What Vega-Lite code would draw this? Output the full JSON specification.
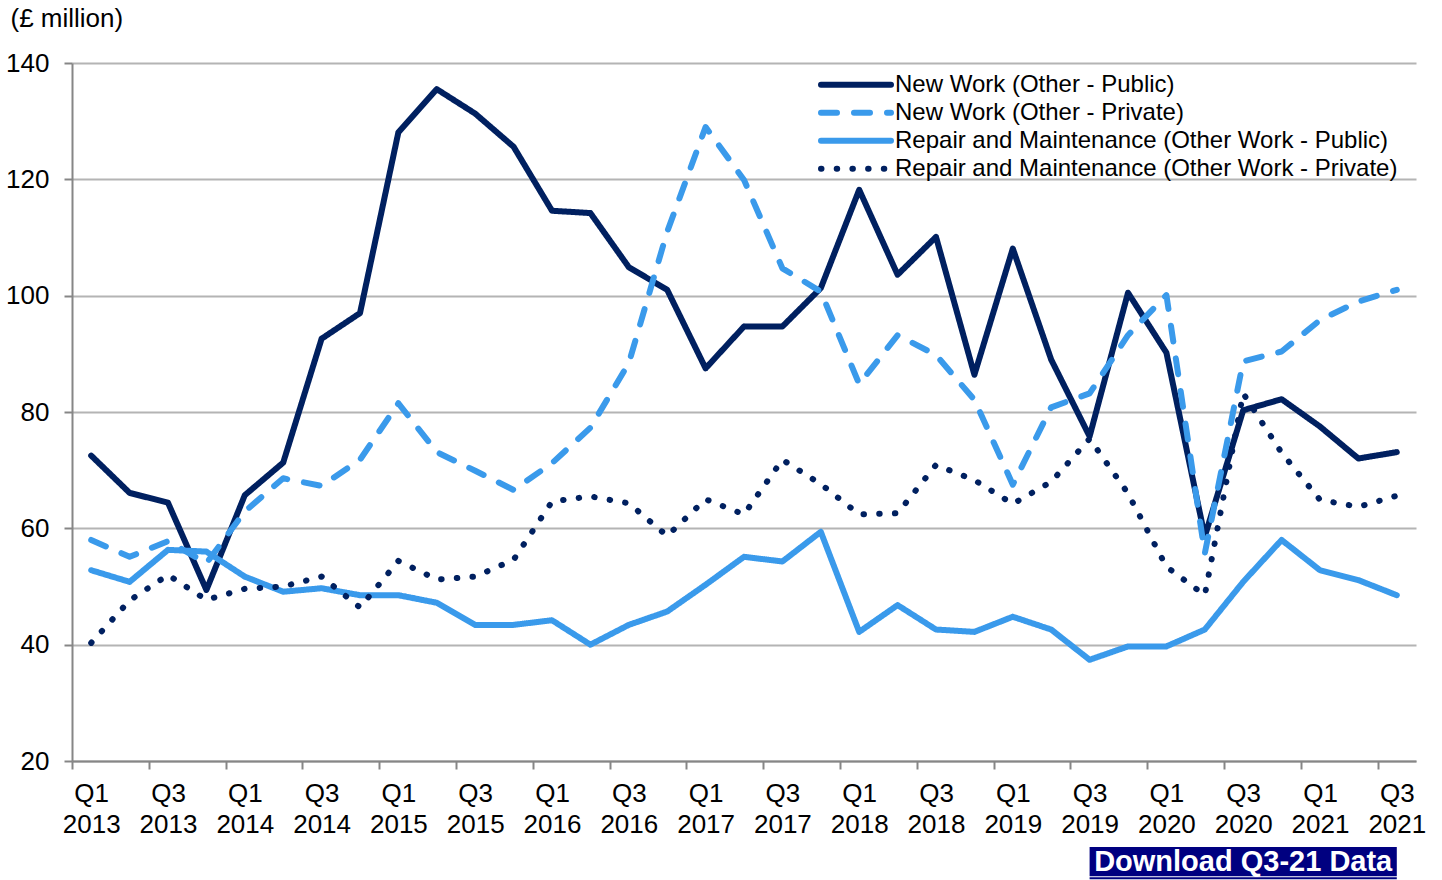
{
  "$schema": "https://vega.github.io/schema/vega-lite/v6.json",
  "width": 1344,
  "height": 698,
  "autosize": "none",
  "padding": {"left": 72, "top": 63, "right": 26, "bottom": 119},
  "background": "white",
  "config": {
    "view": {"stroke": null},
    "font": "Liberation Sans",
    "axis": {
      "domainColor": "#868686", "domainWidth": 2,
      "tickColor": "#868686", "tickWidth": 2, "tickSize": 8,
      "labelFont": "Liberation Sans", "labelFontSize": 26, "labelColor": "#000000",
      "gridColor": "#B4B4B4", "gridWidth": 2
    },
    "legend": {
      "labelFont": "Liberation Sans", "labelFontSize": 24, "labelColor": "#000000",
      "labelLimit": 0, "symbolType": "stroke", "symbolSize": 4900, "symbolStrokeWidth": 6,
      "labelOffset": 1, "rowPadding": 0, "padding": 0, "clipHeight": 27.7
    }
  },
  "datasets": {
    "series": [
      {"quarter": "Q1 2013", "New Work (Other - Public)": 72.5, "New Work (Other - Private)": 58.0, "Repair and Maintenance (Other Work - Public)": 52.8, "Repair and Maintenance (Other Work - Private)": 40.3},
      {"quarter": "Q2 2013", "New Work (Other - Public)": 66.1, "New Work (Other - Private)": 55.1, "Repair and Maintenance (Other Work - Public)": 50.8, "Repair and Maintenance (Other Work - Private)": 47.6},
      {"quarter": "Q3 2013", "New Work (Other - Public)": 64.4, "New Work (Other - Private)": 57.8, "Repair and Maintenance (Other Work - Public)": 56.3, "Repair and Maintenance (Other Work - Private)": 52.0},
      {"quarter": "Q4 2013", "New Work (Other - Public)": 49.4, "New Work (Other - Private)": 54.0, "Repair and Maintenance (Other Work - Public)": 56.0, "Repair and Maintenance (Other Work - Private)": 47.7},
      {"quarter": "Q1 2014", "New Work (Other - Public)": 65.7, "New Work (Other - Private)": 62.9, "Repair and Maintenance (Other Work - Public)": 51.7, "Repair and Maintenance (Other Work - Private)": 49.6},
      {"quarter": "Q2 2014", "New Work (Other - Public)": 71.3, "New Work (Other - Private)": 68.6, "Repair and Maintenance (Other Work - Public)": 49.1, "Repair and Maintenance (Other Work - Private)": 50.0},
      {"quarter": "Q3 2014", "New Work (Other - Public)": 92.6, "New Work (Other - Private)": 67.3, "Repair and Maintenance (Other Work - Public)": 49.7, "Repair and Maintenance (Other Work - Private)": 51.7},
      {"quarter": "Q4 2014", "New Work (Other - Public)": 97.0, "New Work (Other - Private)": 71.8, "Repair and Maintenance (Other Work - Public)": 48.5, "Repair and Maintenance (Other Work - Private)": 46.4},
      {"quarter": "Q1 2015", "New Work (Other - Public)": 128.1, "New Work (Other - Private)": 81.5, "Repair and Maintenance (Other Work - Public)": 48.5, "Repair and Maintenance (Other Work - Private)": 54.4},
      {"quarter": "Q2 2015", "New Work (Other - Public)": 135.5, "New Work (Other - Private)": 73.1, "Repair and Maintenance (Other Work - Public)": 47.2, "Repair and Maintenance (Other Work - Private)": 51.2},
      {"quarter": "Q3 2015", "New Work (Other - Public)": 131.3, "New Work (Other - Private)": 69.9, "Repair and Maintenance (Other Work - Public)": 43.4, "Repair and Maintenance (Other Work - Private)": 51.7},
      {"quarter": "Q4 2015", "New Work (Other - Public)": 125.6, "New Work (Other - Private)": 66.6, "Repair and Maintenance (Other Work - Public)": 43.4, "Repair and Maintenance (Other Work - Private)": 54.6},
      {"quarter": "Q1 2016", "New Work (Other - Public)": 114.6, "New Work (Other - Private)": 71.2, "Repair and Maintenance (Other Work - Public)": 44.2, "Repair and Maintenance (Other Work - Private)": 64.6},
      {"quarter": "Q2 2016", "New Work (Other - Public)": 114.2, "New Work (Other - Private)": 77.3, "Repair and Maintenance (Other Work - Public)": 40.0, "Repair and Maintenance (Other Work - Private)": 65.5},
      {"quarter": "Q3 2016", "New Work (Other - Public)": 104.9, "New Work (Other - Private)": 88.4, "Repair and Maintenance (Other Work - Public)": 43.4, "Repair and Maintenance (Other Work - Private)": 64.3},
      {"quarter": "Q4 2016", "New Work (Other - Public)": 101.0, "New Work (Other - Private)": 111.0, "Repair and Maintenance (Other Work - Public)": 45.7, "Repair and Maintenance (Other Work - Private)": 58.7},
      {"quarter": "Q1 2017", "New Work (Other - Public)": 87.5, "New Work (Other - Private)": 129.0, "Repair and Maintenance (Other Work - Public)": 50.3, "Repair and Maintenance (Other Work - Private)": 65.0},
      {"quarter": "Q2 2017", "New Work (Other - Public)": 94.7, "New Work (Other - Private)": 119.9, "Repair and Maintenance (Other Work - Public)": 55.1, "Repair and Maintenance (Other Work - Private)": 62.4},
      {"quarter": "Q3 2017", "New Work (Other - Public)": 94.7, "New Work (Other - Private)": 104.7, "Repair and Maintenance (Other Work - Public)": 54.3, "Repair and Maintenance (Other Work - Private)": 71.8},
      {"quarter": "Q4 2017", "New Work (Other - Public)": 101.3, "New Work (Other - Private)": 100.7, "Repair and Maintenance (Other Work - Public)": 59.4, "Repair and Maintenance (Other Work - Private)": 67.6},
      {"quarter": "Q1 2018", "New Work (Other - Public)": 118.2, "New Work (Other - Private)": 84.8, "Repair and Maintenance (Other Work - Public)": 42.2, "Repair and Maintenance (Other Work - Private)": 62.4},
      {"quarter": "Q2 2018", "New Work (Other - Public)": 103.6, "New Work (Other - Private)": 93.2, "Repair and Maintenance (Other Work - Public)": 46.8, "Repair and Maintenance (Other Work - Private)": 62.6},
      {"quarter": "Q3 2018", "New Work (Other - Public)": 110.1, "New Work (Other - Private)": 89.8, "Repair and Maintenance (Other Work - Public)": 42.6, "Repair and Maintenance (Other Work - Private)": 70.9},
      {"quarter": "Q4 2018", "New Work (Other - Public)": 86.4, "New Work (Other - Private)": 82.1, "Repair and Maintenance (Other Work - Public)": 42.2, "Repair and Maintenance (Other Work - Private)": 68.3},
      {"quarter": "Q1 2019", "New Work (Other - Public)": 108.1, "New Work (Other - Private)": 67.5, "Repair and Maintenance (Other Work - Public)": 44.8, "Repair and Maintenance (Other Work - Private)": 64.2},
      {"quarter": "Q2 2019", "New Work (Other - Public)": 89.0, "New Work (Other - Private)": 80.8, "Repair and Maintenance (Other Work - Public)": 42.6, "Repair and Maintenance (Other Work - Private)": 68.0},
      {"quarter": "Q3 2019", "New Work (Other - Public)": 75.8, "New Work (Other - Private)": 83.2, "Repair and Maintenance (Other Work - Public)": 37.4, "Repair and Maintenance (Other Work - Private)": 75.4},
      {"quarter": "Q4 2019", "New Work (Other - Public)": 100.5, "New Work (Other - Private)": 93.2, "Repair and Maintenance (Other Work - Public)": 39.7, "Repair and Maintenance (Other Work - Private)": 66.0},
      {"quarter": "Q1 2020", "New Work (Other - Public)": 90.2, "New Work (Other - Private)": 100.1, "Repair and Maintenance (Other Work - Public)": 39.7, "Repair and Maintenance (Other Work - Private)": 53.4},
      {"quarter": "Q2 2020", "New Work (Other - Public)": 58.6, "New Work (Other - Private)": 55.7, "Repair and Maintenance (Other Work - Public)": 42.6, "Repair and Maintenance (Other Work - Private)": 48.5},
      {"quarter": "Q3 2020", "New Work (Other - Public)": 80.3, "New Work (Other - Private)": 88.7, "Repair and Maintenance (Other Work - Public)": 50.8, "Repair and Maintenance (Other Work - Private)": 83.2},
      {"quarter": "Q4 2020", "New Work (Other - Public)": 82.2, "New Work (Other - Private)": 90.4, "Repair and Maintenance (Other Work - Public)": 58.0, "Repair and Maintenance (Other Work - Private)": 73.0},
      {"quarter": "Q1 2021", "New Work (Other - Public)": 77.5, "New Work (Other - Private)": 95.8, "Repair and Maintenance (Other Work - Public)": 52.8, "Repair and Maintenance (Other Work - Private)": 64.9},
      {"quarter": "Q2 2021", "New Work (Other - Public)": 72.0, "New Work (Other - Private)": 99.0, "Repair and Maintenance (Other Work - Public)": 51.1, "Repair and Maintenance (Other Work - Private)": 63.7},
      {"quarter": "Q3 2021", "New Work (Other - Public)": 73.1, "New Work (Other - Private)": 101.0, "Repair and Maintenance (Other Work - Public)": 48.5, "Repair and Maintenance (Other Work - Private)": 65.6}
    ]
  },
  "layer": [
    {
      "data": {"name": "series"},
      "transform": [
        {"fold": ["New Work (Other - Public)", "New Work (Other - Private)", "Repair and Maintenance (Other Work - Public)", "Repair and Maintenance (Other Work - Private)"], "as": ["series", "value"]}
      ],
      "mark": {"type": "line", "strokeWidth": 6, "strokeCap": "round", "strokeJoin": "round"},
      "encoding": {
        "x": {
          "field": "quarter", "type": "ordinal",
          "scale": {"type": "point", "padding": 0.5, "domain": ["Q1 2013","Q2 2013","Q3 2013","Q4 2013","Q1 2014","Q2 2014","Q3 2014","Q4 2014","Q1 2015","Q2 2015","Q3 2015","Q4 2015","Q1 2016","Q2 2016","Q3 2016","Q4 2016","Q1 2017","Q2 2017","Q3 2017","Q4 2017","Q1 2018","Q2 2018","Q3 2018","Q4 2018","Q1 2019","Q2 2019","Q3 2019","Q4 2019","Q1 2020","Q2 2020","Q3 2020","Q4 2020","Q1 2021","Q2 2021","Q3 2021"]},
          "axis": {
            "title": null, "grid": false, "labelAngle": 0,
            "values": ["Q1 2013","Q3 2013","Q1 2014","Q3 2014","Q1 2015","Q3 2015","Q1 2016","Q3 2016","Q1 2017","Q3 2017","Q1 2018","Q3 2018","Q1 2019","Q3 2019","Q1 2020","Q3 2020","Q1 2021","Q3 2021"],
            "labelExpr": "split(datum.label, ' ')",
            "labelLineHeight": 31, "labelPadding": 11, "labelBaseline": "top",
            "tickOffset": -19.2, "labelOffset": 19.2
          }
        },
        "y": {
          "field": "value", "type": "quantitative",
          "scale": {"domain": [20, 140], "nice": false, "zero": false},
          "axis": {
            "values": [20, 40, 60, 80, 100, 120, 140], "grid": true, "labelPadding": 15,
            "title": "(£ million)", "titleAngle": 0, "titleX": -62, "titleY": -45,
            "titleAlign": "left", "titleBaseline": "middle", "titleFontSize": 26,
            "titleFontWeight": "normal", "titleFont": "Liberation Sans", "titleColor": "#000000"
          }
        },
        "color": {
          "field": "series", "type": "nominal",
          "scale": {
            "domain": ["New Work (Other - Public)", "New Work (Other - Private)", "Repair and Maintenance (Other Work - Public)", "Repair and Maintenance (Other Work - Private)"],
            "range": ["#002060", "#3A9AEB", "#3A9AEB", "#002060"]
          },
          "legend": {"title": null, "orient": "none", "legendX": 746, "legendY": 8, "encode": {"symbols": {"update": {"strokeCap": {"value": "round"}}}}}
        },
        "strokeDash": {
          "field": "series", "type": "nominal",
          "scale": {
            "domain": ["New Work (Other - Public)", "New Work (Other - Private)", "Repair and Maintenance (Other Work - Public)", "Repair and Maintenance (Other Work - Private)"],
            "range": [[1, 0], [16, 17], [1, 0], [0.5, 15.2]]
          },
          "legend": {"title": null, "orient": "none", "legendX": 746, "legendY": 8, "encode": {"symbols": {"update": {"strokeCap": {"value": "round"}}}}}
        }
      }
    },
    {
      "data": {"values": [{}]},
      "mark": {"type": "rect", "color": "#000080"},
      "encoding": {
        "x": {"datum": "Q3 2019", "type": "ordinal"},
        "x2": {"datum": "Q3 2021"},
        "y": {"datum": 5.2, "type": "quantitative"},
        "y2": {"datum": 0.2}
      }
    },
    {
      "data": {"values": [{}]},
      "mark": {"type": "rule", "color": "#000080", "strokeWidth": 2},
      "encoding": {
        "x": {"datum": "Q3 2019", "type": "ordinal"},
        "x2": {"datum": "Q3 2021"},
        "y": {"datum": -0.15, "type": "quantitative"}
      }
    },
    {
      "data": {"values": [{}]},
      "mark": {"type": "text", "text": "Download Q3-21 Data", "color": "#FFFFFF", "font": "Liberation Sans", "fontWeight": "bold", "fontSize": 29, "align": "center", "baseline": "middle"},
      "encoding": {
        "x": {"datum": "Q3 2020", "type": "ordinal"},
        "y": {"datum": 2.7, "type": "quantitative"}
      }
    }
  ]
}
